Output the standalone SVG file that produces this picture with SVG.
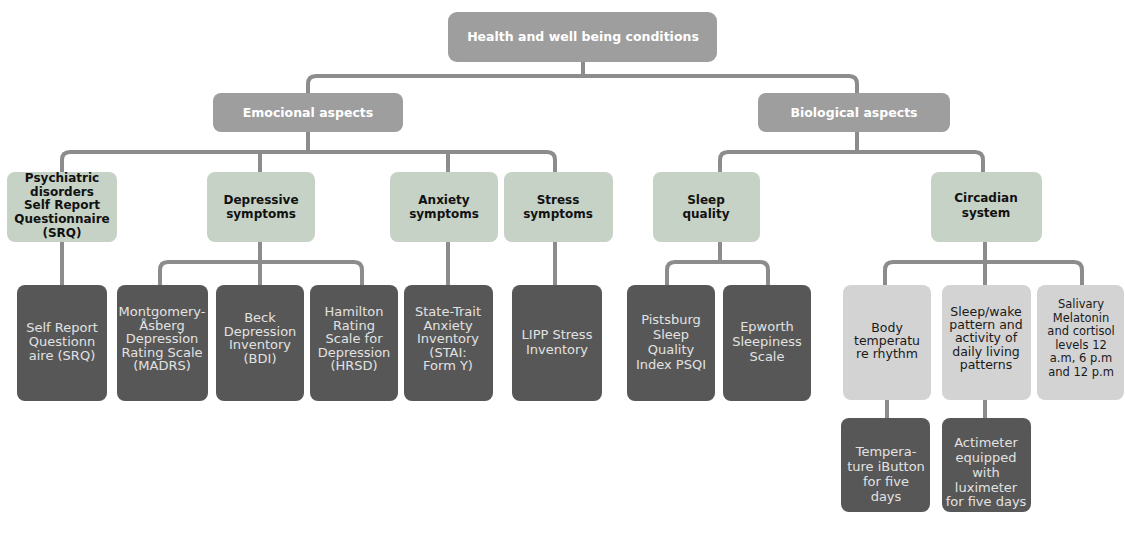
<svg xmlns="http://www.w3.org/2000/svg" width="1125" height="533" viewBox="0 0 1125 533">
  <style>
    .root rect, .aspect rect { fill: #9e9e9e; }
    .root text, .aspect text { fill: #ffffff; font: bold 12.5px "DejaVu Sans", "Liberation Sans", sans-serif; text-anchor: middle; }
    .cat rect { fill: #c6d2c6; }
    .cat text { fill: #111111; font: bold 12px "DejaVu Sans", "Liberation Sans", sans-serif; text-anchor: middle; }
    .tool rect { fill: #575757; }
    .tool text { fill: #e2e2e2; font: 13px "DejaVu Sans", "Liberation Sans", sans-serif; text-anchor: middle; }
    .sub rect { fill: #d3d3d3; }
    .sub text { fill: #1a1a1a; font: 12.5px "DejaVu Sans", "Liberation Sans", sans-serif; text-anchor: middle; }
    #salivary text { font-size: 11.5px; }
    #connectors path { fill: none; stroke: #8c8c8c; stroke-width: 4; }
  </style>

  <!-- tree connectors -->
  <g id="connectors">
    <path d="M583,62 V76"/>
    <path d="M308,93 V84 Q308,76 316,76 H849 Q857,76 857,84 V93"/>
    <path d="M308,132 V152"/>
    <path d="M62,172 V160 Q62,152 70,152 H547 Q555,152 555,160 V172"/>
    <path d="M260,152 V172"/>
    <path d="M448,152 V172"/>
    <path d="M857,132 V152"/>
    <path d="M720,172 V160 Q720,152 728,152 H975 Q983,152 983,160 V172"/>
    <path d="M62,242 V285"/>
    <path d="M260,242 V285"/>
    <path d="M160,285 V270 Q160,262 168,262 H354 Q362,262 362,270 V285"/>
    <path d="M448,242 V285"/>
    <path d="M555,242 V285"/>
    <path d="M720,242 V262"/>
    <path d="M667,285 V270 Q667,262 675,262 H760 Q768,262 768,270 V285"/>
    <path d="M985,242 V285"/>
    <path d="M885,285 V270 Q885,262 893,262 H1074 Q1082,262 1082,270 V285"/>
    <path d="M887,400 V418"/>
    <path d="M985,400 V418"/>
  </g>

  <g id="health" class="root">
    <rect x="448" y="12" width="269" height="50" rx="9"/>
    <text x="583" y="41">Health and well being conditions</text>
  </g>

  <g id="emocional" class="aspect">
    <rect x="213" y="93" width="190" height="39" rx="8"/>
    <text x="308" y="117">Emocional aspects</text>
  </g>
  <g id="biological" class="aspect">
    <rect x="758" y="93" width="192" height="39" rx="8"/>
    <text x="854" y="117">Biological aspects</text>
  </g>

  <g id="psychiatric" class="cat">
    <rect x="7" y="172" width="110" height="70" rx="8"/>
    <text x="62" y="182">Psychiatric</text>
    <text x="62" y="196">disorders</text>
    <text x="62" y="209">Self Report</text>
    <text x="62" y="223">Questionnaire</text>
    <text x="62" y="237">(SRQ)</text>
  </g>
  <g id="depressive" class="cat">
    <rect x="207" y="172" width="108" height="70" rx="8"/>
    <text x="261" y="204">Depressive</text>
    <text x="261" y="218">symptoms</text>
  </g>
  <g id="anxiety" class="cat">
    <rect x="390" y="172" width="108" height="70" rx="8"/>
    <text x="444" y="204">Anxiety</text>
    <text x="444" y="218">symptoms</text>
  </g>
  <g id="stress" class="cat">
    <rect x="504" y="172" width="109" height="70" rx="8"/>
    <text x="558" y="204">Stress</text>
    <text x="558" y="218">symptoms</text>
  </g>
  <g id="sleep-quality" class="cat">
    <rect x="653" y="172" width="107" height="70" rx="8"/>
    <text x="706" y="204">Sleep</text>
    <text x="706" y="218">quality</text>
  </g>
  <g id="circadian" class="cat">
    <rect x="931" y="172" width="111" height="70" rx="8"/>
    <text x="986" y="202">Circadian</text>
    <text x="986" y="217">system</text>
  </g>

  <g id="srq" class="tool">
    <rect x="17" y="285" width="90" height="116" rx="8"/>
    <text x="62" y="332">Self Report</text>
    <text x="62" y="346">Questionn</text>
    <text x="62" y="360">aire (SRQ)</text>
  </g>
  <g id="madrs" class="tool">
    <rect x="117" y="285" width="91" height="116" rx="8"/>
    <text x="162" y="316">Montgomery-</text>
    <text x="162" y="330">Åsberg</text>
    <text x="162" y="343">Depression</text>
    <text x="162" y="357">Rating Scale</text>
    <text x="162" y="370">(MADRS)</text>
  </g>
  <g id="bdi" class="tool">
    <rect x="216" y="285" width="88" height="116" rx="8"/>
    <text x="260" y="322">Beck</text>
    <text x="260" y="336">Depression</text>
    <text x="260" y="349">Inventory</text>
    <text x="260" y="363">(BDI)</text>
  </g>
  <g id="hrsd" class="tool">
    <rect x="310" y="285" width="88" height="116" rx="8"/>
    <text x="354" y="316">Hamilton</text>
    <text x="354" y="330">Rating</text>
    <text x="354" y="343">Scale for</text>
    <text x="354" y="357">Depression</text>
    <text x="354" y="370">(HRSD)</text>
  </g>
  <g id="stai" class="tool">
    <rect x="404" y="285" width="89" height="116" rx="8"/>
    <text x="448" y="316">State-Trait</text>
    <text x="448" y="330">Anxiety</text>
    <text x="448" y="343">Inventory</text>
    <text x="448" y="357">(STAI:</text>
    <text x="448" y="370">Form Y)</text>
  </g>
  <g id="lipp" class="tool">
    <rect x="512" y="285" width="90" height="116" rx="8"/>
    <text x="557" y="339">LIPP Stress</text>
    <text x="557" y="354">Inventory</text>
  </g>
  <g id="psqi" class="tool">
    <rect x="627" y="285" width="88" height="116" rx="8"/>
    <text x="671" y="324">Pistsburg</text>
    <text x="671" y="339">Sleep</text>
    <text x="671" y="354">Quality</text>
    <text x="671" y="369">Index PSQI</text>
  </g>
  <g id="epworth" class="tool">
    <rect x="723" y="285" width="88" height="116" rx="8"/>
    <text x="767" y="331">Epworth</text>
    <text x="767" y="346">Sleepiness</text>
    <text x="767" y="361">Scale</text>
  </g>

  <g id="body-temperature" class="sub">
    <rect x="843" y="285" width="88" height="115" rx="8"/>
    <text x="887" y="332">Body</text>
    <text x="887" y="345">temperatu</text>
    <text x="887" y="358">re rhythm</text>
  </g>
  <g id="sleep-wake" class="sub">
    <rect x="942" y="285" width="89" height="115" rx="8"/>
    <text x="986" y="316">Sleep/wake</text>
    <text x="986" y="329">pattern and</text>
    <text x="986" y="342">activity of</text>
    <text x="986" y="356">daily living</text>
    <text x="986" y="369">patterns</text>
  </g>
  <g id="salivary" class="sub">
    <rect x="1037" y="285" width="87" height="115" rx="8"/>
    <text x="1081" y="308">Salivary</text>
    <text x="1081" y="321.5">Melatonin</text>
    <text x="1081" y="335">and cortisol</text>
    <text x="1081" y="348.5">levels 12</text>
    <text x="1081" y="362">a.m, 6 p.m</text>
    <text x="1081" y="375.5">and 12 p.m</text>
  </g>

  <g id="ibutton" class="tool">
    <rect x="841" y="418" width="89" height="94" rx="8"/>
    <text x="886" y="456">Tempera-</text>
    <text x="886" y="471">ture iButton</text>
    <text x="886" y="486">for five</text>
    <text x="886" y="501">days</text>
  </g>
  <g id="actimeter" class="tool">
    <rect x="942" y="418" width="89" height="94" rx="8"/>
    <text x="986" y="447">Actimeter</text>
    <text x="986" y="462">equipped</text>
    <text x="986" y="477">with</text>
    <text x="986" y="492">luximeter</text>
    <text x="986" y="506">for five days</text>
  </g>
</svg>
